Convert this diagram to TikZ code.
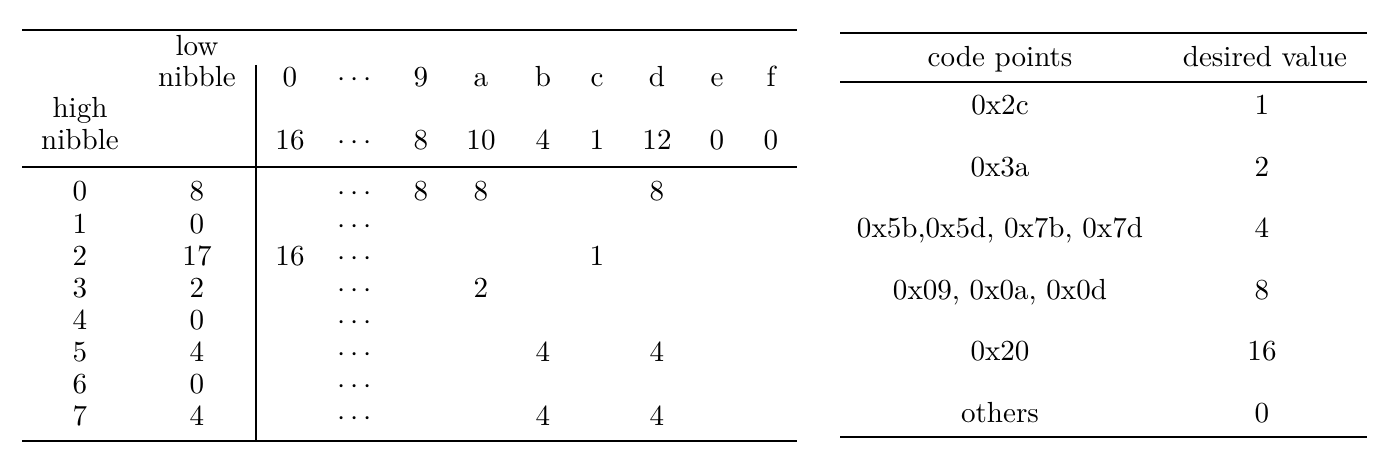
\documentclass[tikz,border=0pt]{standalone}
\begin{document}
\begin{tikzpicture}[x=0.3731pt,y=-0.3731pt,
  cell/.style={anchor=base,inner sep=0pt,outer sep=0pt,font=\fontsize{10.85}{13}\selectfont},
  heavy/.style={line width=1.05pt},
  light/.style={line width=0.55pt},
  vrule/.style={line width=0.45pt}]
\useasboundingbox (0,0) rectangle (1384,456);
% ---------- left table ----------
\coordinate (LTl) at (22,30);   \coordinate (LTr) at (797,30);
\coordinate (LMl) at (22,167);  \coordinate (LMr) at (797,167);
\coordinate (LBl) at (22,441);  \coordinate (LBr) at (797,441);
\coordinate (Vt) at (256,65);   \coordinate (Vb) at (256,441);
\draw[heavy] (LTl) -- (LTr);
\draw[light] (LMl) -- (LMr);
\draw[heavy] (LBl) -- (LBr);
\draw[vrule] (Vt) -- (Vb);
% header labels
\node[cell] (low) at (197,56) {low};
\node[cell] (lownib) at (197,87) {nibble};
\node[cell] (high) at (80,118) {high};
\node[cell] (highnib) at (80,150) {nibble};
% column header rows
\foreach \x/\a/\b [count=\i] in {290/0/16, 355/$\cdots$/$\cdots$, 421/9/8, 481/a/10, 543/b/4, 597/c/1, 657/d/12, 717/e/0, 771/f/0}{
  \node[cell] (h\i) at (\x,87) {\a};
  \node[cell] (s\i) at (\x,150) {\b};
}
% data rows: high nibble and sum
\foreach \r/\v [count=\i from 0] in {0/8,1/0,2/17,3/2,4/0,5/4,6/0,7/4}{
  \node[cell] (r\i) at (80,{201+32.1*\i}) {\r};
  \node[cell] (v\i) at (197,{201+32.1*\i}) {\v};
  \node[cell] (d\i) at (355,{201+32.1*\i}) {$\cdots$};
}
% table entries
\node[cell] (e09) at (421,201) {8};
\node[cell] (e0a) at (481,201) {8};
\node[cell] (e0d) at (657,201) {8};
\node[cell] (e20) at (290,265.2) {16};
\node[cell] (e2c) at (597,265.2) {1};
\node[cell] (e3a) at (481,297.3) {2};
\node[cell] (e5b) at (543,361.5) {4};
\node[cell] (e5d) at (657,361.5) {4};
\node[cell] (e7b) at (543,425.7) {4};
\node[cell] (e7d) at (657,425.7) {4};
% ---------- right table ----------
\coordinate (RTl) at (840,33);  \coordinate (RTr) at (1367,33);
\coordinate (RMl) at (840,82);  \coordinate (RMr) at (1367,82);
\coordinate (RBl) at (840,437); \coordinate (RBr) at (1367,437);
\draw[heavy] (RTl) -- (RTr);
\draw[light] (RMl) -- (RMr);
\draw[heavy] (RBl) -- (RBr);
\node[cell] (cp) at (1000,67) {code points};
\node[cell] (dv) at (1265,67) {desired value};
\foreach \c/\v [count=\i from 0] in {0x2c/1, 0x3a/2, {0x5b,0x5d, 0x7b, 0x7d}/4, {0x09, 0x0a, 0x0d}/8, 0x20/16, others/0}{
  \node[cell] (c\i) at (1000,{115+61.5*\i}) {\c};
  \node[cell] (w\i) at (1262,{115+61.5*\i}) {\v};
}
\end{tikzpicture}
\end{document}
